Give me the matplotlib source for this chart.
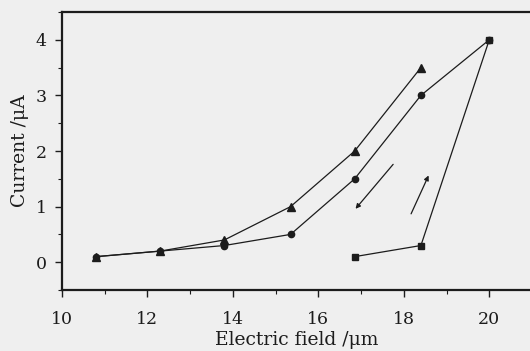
import matplotlib
matplotlib.use("Agg")
import matplotlib.pyplot as plt
from matplotlib.ticker import MultipleLocator


# field (um) and current (uA)
TRIANGLE_X = [10.8, 12.3, 13.8, 15.35, 16.85, 18.4]
TRIANGLE_Y = [0.1, 0.2, 0.4, 1.0, 2.0, 3.5]

CIRCLE_X = [10.8, 12.3, 13.8, 15.35, 16.85, 18.4, 20.0]
CIRCLE_Y = [0.1, 0.2, 0.3, 0.5, 1.5, 3.0, 4.0]

SQUARE_X = [16.85, 18.4, 20.0]
SQUARE_Y = [0.1, 0.3, 4.0]

# sweep-direction arrows: (tail, head)
ARROWS = [((17.75, 1.76), (16.87, 0.96)),
          ((18.17, 0.87), (18.58, 1.56))]

X_TICKS = [10, 12, 14, 16, 18, 20]
Y_TICKS = [0, 1, 2, 3, 4]

INK = "#1c1c1c"
PAPER = "#efefef"


def main() -> None:
    plt.rcParams["font.family"] = ["DejaVu Serif"]
    fig = plt.figure(figsize=(5.30, 3.51), dpi=100, facecolor=PAPER)
    ax = fig.add_axes([62 / 530, 61 / 351, 470 / 530, 278 / 351])
    ax.set_facecolor(PAPER)

    ax.plot(CIRCLE_X, CIRCLE_Y, marker="o", color=INK, linewidth=0.9, markersize=4.5)
    ax.plot(TRIANGLE_X, TRIANGLE_Y, marker="^", color=INK, linewidth=0.9, markersize=6)
    ax.plot(SQUARE_X, SQUARE_Y, marker="s", color=INK, linewidth=0.9, markersize=4.5)

    for tail, head in ARROWS:
        ax.annotate("", xy=head, xytext=tail,
                    arrowprops=dict(arrowstyle="-|>", color=INK, lw=0.9,
                                    mutation_scale=7, shrinkA=0, shrinkB=0))

    ax.set_xlim(10, 21)
    ax.set_ylim(-0.5, 4.5)
    ax.set_xticks(X_TICKS)
    ax.set_yticks(Y_TICKS)
    ax.xaxis.set_minor_locator(MultipleLocator(1))
    ax.yaxis.set_minor_locator(MultipleLocator(0.5))
    ax.tick_params(which="major", length=5, width=1, color=INK,
                   labelsize=12.5, labelcolor=INK, pad=10)
    ax.tick_params(which="minor", length=3, width=0.8, color=INK)
    ax.tick_params(axis="y", which="major", pad=6)

    for side in ("left", "bottom", "top", "right"):
        ax.spines[side].set_linewidth(1.6)
        ax.spines[side].set_color(INK)

    ax.set_xlabel("Electric field /μm", fontsize=13.5, color=INK, labelpad=2)
    ax.set_ylabel("Current /μA", fontsize=13.5, color=INK, labelpad=5)

    fig.savefig("out.png", dpi=100, facecolor=PAPER)


if __name__ == "__main__":
    main()
